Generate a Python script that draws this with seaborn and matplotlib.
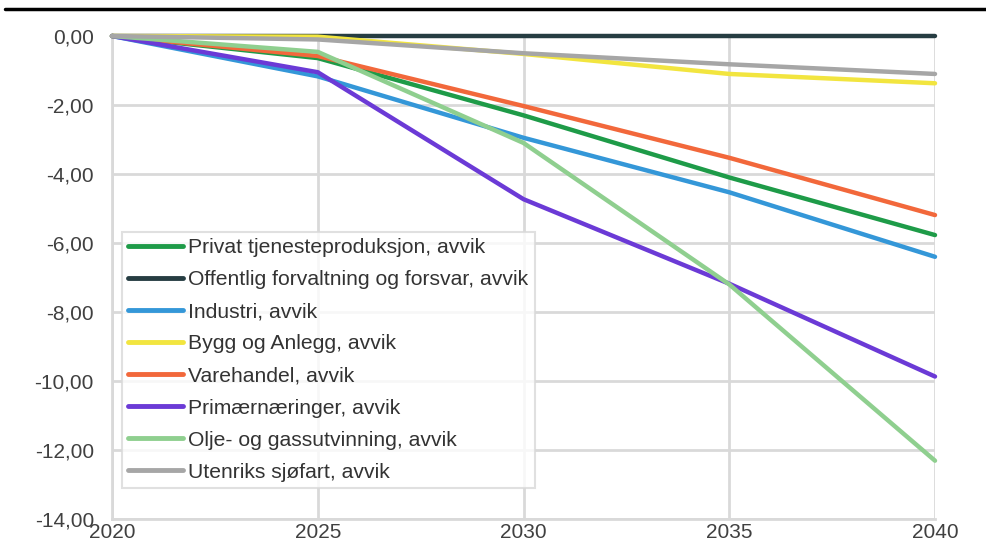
import matplotlib
matplotlib.use("Agg")
import matplotlib.pyplot as plt
import seaborn as sns
import pandas as pd

years = [2020, 2025, 2030, 2035, 2040]
series_names = [
    "Privat tjenesteproduksjon, avvik",
    "Offentlig forvaltning og forsvar, avvik",
    "Industri, avvik",
    "Bygg og Anlegg, avvik",
    "Varehandel, avvik",
    "Primærnæringer, avvik",
    "Olje- og gassutvinning, avvik",
    "Utenriks sjøfart, avvik",
]
privat = [0.0, -0.64, -2.30, -4.10, -5.77]
offentlig = [0.0, 0.0, 0.0, 0.0, 0.0]
industri = [0.0, -1.17, -2.95, -4.53, -6.40]
bygg = [0.0, -0.02, -0.52, -1.10, -1.37]
varehandel = [0.0, -0.58, -2.03, -3.53, -5.19]
primaer = [0.0, -1.05, -4.73, -7.18, -9.87]
olje = [0.0, -0.46, -3.10, -7.20, -12.31]
utenriks = [0.0, -0.10, -0.50, -0.82, -1.10]
colors = ["#1E9B48", "#263D42", "#3497D8", "#F2E53F",
          "#F2683B", "#6B3AD6", "#8FCF8F", "#A6A6A6"]
yticks = [0, -2, -4, -6, -8, -10, -12, -14]

values = [privat, offentlig, industri, bygg, varehandel, primaer, olje, utenriks]
rows = []
for name, vals in zip(series_names, values):
    for yr, v in zip(years, vals):
        rows.append({"year": yr, "value": v, "serie": name})
dfrm = pd.DataFrame(rows)

sns.set_theme(style="white")
plt.rcParams["font.family"] = ["Liberation Sans", "DejaVu Sans"]

fig = plt.figure(figsize=(9.87, 5.53), dpi=100)
ax = fig.add_axes([112 / 987, 1 - 519 / 553, (935 - 112) / 987, (519 - 36) / 553])

sns.lineplot(data=dfrm, x="year", y="value", hue="serie", hue_order=series_names,
             palette=colors, linewidth=3.2, ax=ax, clip_on=False, zorder=3)

ax.set_xlim(2020, 2040)
ax.set_ylim(-14, 0)
ax.set_xticks(years)
ax.set_yticks(yticks)
ax.set_yticklabels(["{:.2f}".format(v).replace(".", ",") for v in yticks])
ax.set_xlabel("")
ax.set_ylabel("")
ax.grid(True, color="#D9D9D9", linewidth=2)
ax.set_axisbelow(True)
for side in ["top", "right"]:
    ax.spines[side].set_visible(False)
for side in ["left", "bottom"]:
    ax.spines[side].set_color("#D9D9D9")
    ax.spines[side].set_linewidth(2)
ax.tick_params(axis="both", length=0, labelsize=15, colors="#404040")
ax.tick_params(axis="y", pad=13)
ax.tick_params(axis="x", pad=3)

leg = ax.legend(loc="lower left", bbox_to_anchor=(0.012, 0.064), borderaxespad=0,
                fontsize=15.2, frameon=True, fancybox=False, handlelength=2.6,
                handletextpad=0.25, labelspacing=0.62, borderpad=0.3)
leg.get_frame().set_edgecolor("#D9D9D9")
leg.get_frame().set_linewidth(1.5)
for txt in leg.get_texts():
    txt.set_color("#333333")
for line in leg.get_lines():
    line.set_linewidth(3.5)
    line.set_solid_capstyle("round")

# black rule under the (cut-off) figure title
fig.add_artist(plt.Line2D([5 / 987, 1.0], [1 - 9 / 553, 1 - 9 / 553],
                          color="black", linewidth=2.5, transform=fig.transFigure))

fig.savefig("out.png", dpi=100)
